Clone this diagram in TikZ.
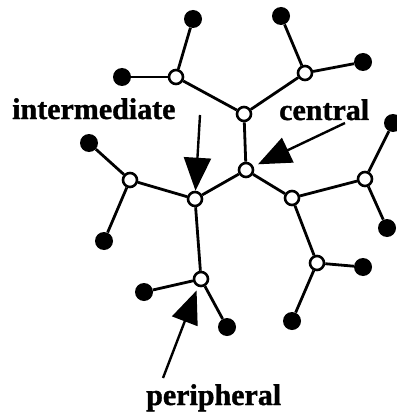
\documentclass[tikz,border=0pt]{standalone}
\usepackage{fontspec}
\setmainfont{Liberation Serif}
\newfontfamily\heavyserif{Liberation Serif}[BoldFeatures={FakeBold=1.2}]
\usepackage{tikz}
\usetikzlibrary{arrows.meta}
\tikzset{
    hubNode/.style={circle, draw=black, fill=white, line width=2.6pt,
                    minimum size=14pt, inner sep=0pt},
    leafDot/.style={circle, fill=black, minimum size=18pt, inner sep=0pt},
    bond/.style={line width=2.8pt},
    roleLabel/.style={font=\heavyserif\fontsize{30}{34}\selectfont\bfseries,
                      inner sep=0pt, anchor=base west},
    pointer/.style={-{Triangle[length=33pt, width=27pt]}, line width=2.4pt},
}

\begin{document}
\begin{tikzpicture}[x=1pt, y=-1pt]
\useasboundingbox (0,0) rectangle (396,417);

% =======================  inner shell  =======================
\node[hubNode] (c) at (246,170) {};
\node[hubNode] (u) at (244,114) {};
\node[hubNode] (i) at (195,199) {};
\node[hubNode] (r) at (292,198) {};

% =======================  second shell  =======================
\node[hubNode] (ul) at (176,77) {};
\node[hubNode] (ur) at (305,73) {};
\node[hubNode] (il) at (130,180) {};
\node[hubNode] (ip) at (201,279) {};
\node[hubNode] (rr) at (365,179) {};
\node[hubNode] (rd) at (317,263) {};

% =======================  leaves  =======================
\node[leafDot] (ul1) at (193,19) {};
\node[leafDot] (ul2) at (122,77) {};
\node[leafDot] (ur1) at (281,16) {};
\node[leafDot] (ur2) at (363,62) {};
\node[leafDot] (il1) at (89,143) {};
\node[leafDot] (il2) at (104,241) {};
\node[leafDot] (ip1) at (144,292) {};
\node[leafDot] (ip2) at (227,327) {};
\node[leafDot] (rr1) at (393,123) {};
\node[leafDot] (rr2) at (387,228) {};
\node[leafDot] (rd1) at (363,267) {};
\node[leafDot] (rd2) at (292,321) {};

% bonds
\draw[bond] (c) -- (u);
\draw[bond] (c) -- (i);
\draw[bond] (c) -- (r);
\draw[bond] (u) -- (ul);
\draw[bond] (u) -- (ur);
\draw[bond] (i) -- (il);
\draw[bond] (i) -- (ip);
\draw[bond] (r) -- (rr);
\draw[bond] (r) -- (rd);
\draw[bond] (ul) -- (ul1);
\draw[bond] (ul) -- (ul2);
\draw[bond] (ur) -- (ur1);
\draw[bond] (ur) -- (ur2);
\draw[bond] (il) -- (il1);
\draw[bond] (il) -- (il2);
\draw[bond] (ip) -- (ip1);
\draw[bond] (ip) -- (ip2);
\draw[bond] (rr) -- (rr1);
\draw[bond] (rr) -- (rr2);
\draw[bond] (rd) -- (rd1);
\draw[bond] (rd) -- (rd2);

% =======================  labels + pointers  =======================
\node[roleLabel] (intermLbl) at (12,119) {intermediate};
\node[roleLabel] (centralLbl) at (279,120) {central};
\node[roleLabel] (periphLbl) at (146,405) {peripheral};

\coordinate (iTail) at (200,115);
\coordinate (cTail) at (345,123);
\coordinate (pTail) at (163,378);

\draw[pointer] (iTail) -- (i);
\draw[pointer, shorten >=5pt] (cTail) -- (c);
\draw[pointer, shorten >=4pt] (pTail) -- (ip);

\end{tikzpicture}
\end{document}
